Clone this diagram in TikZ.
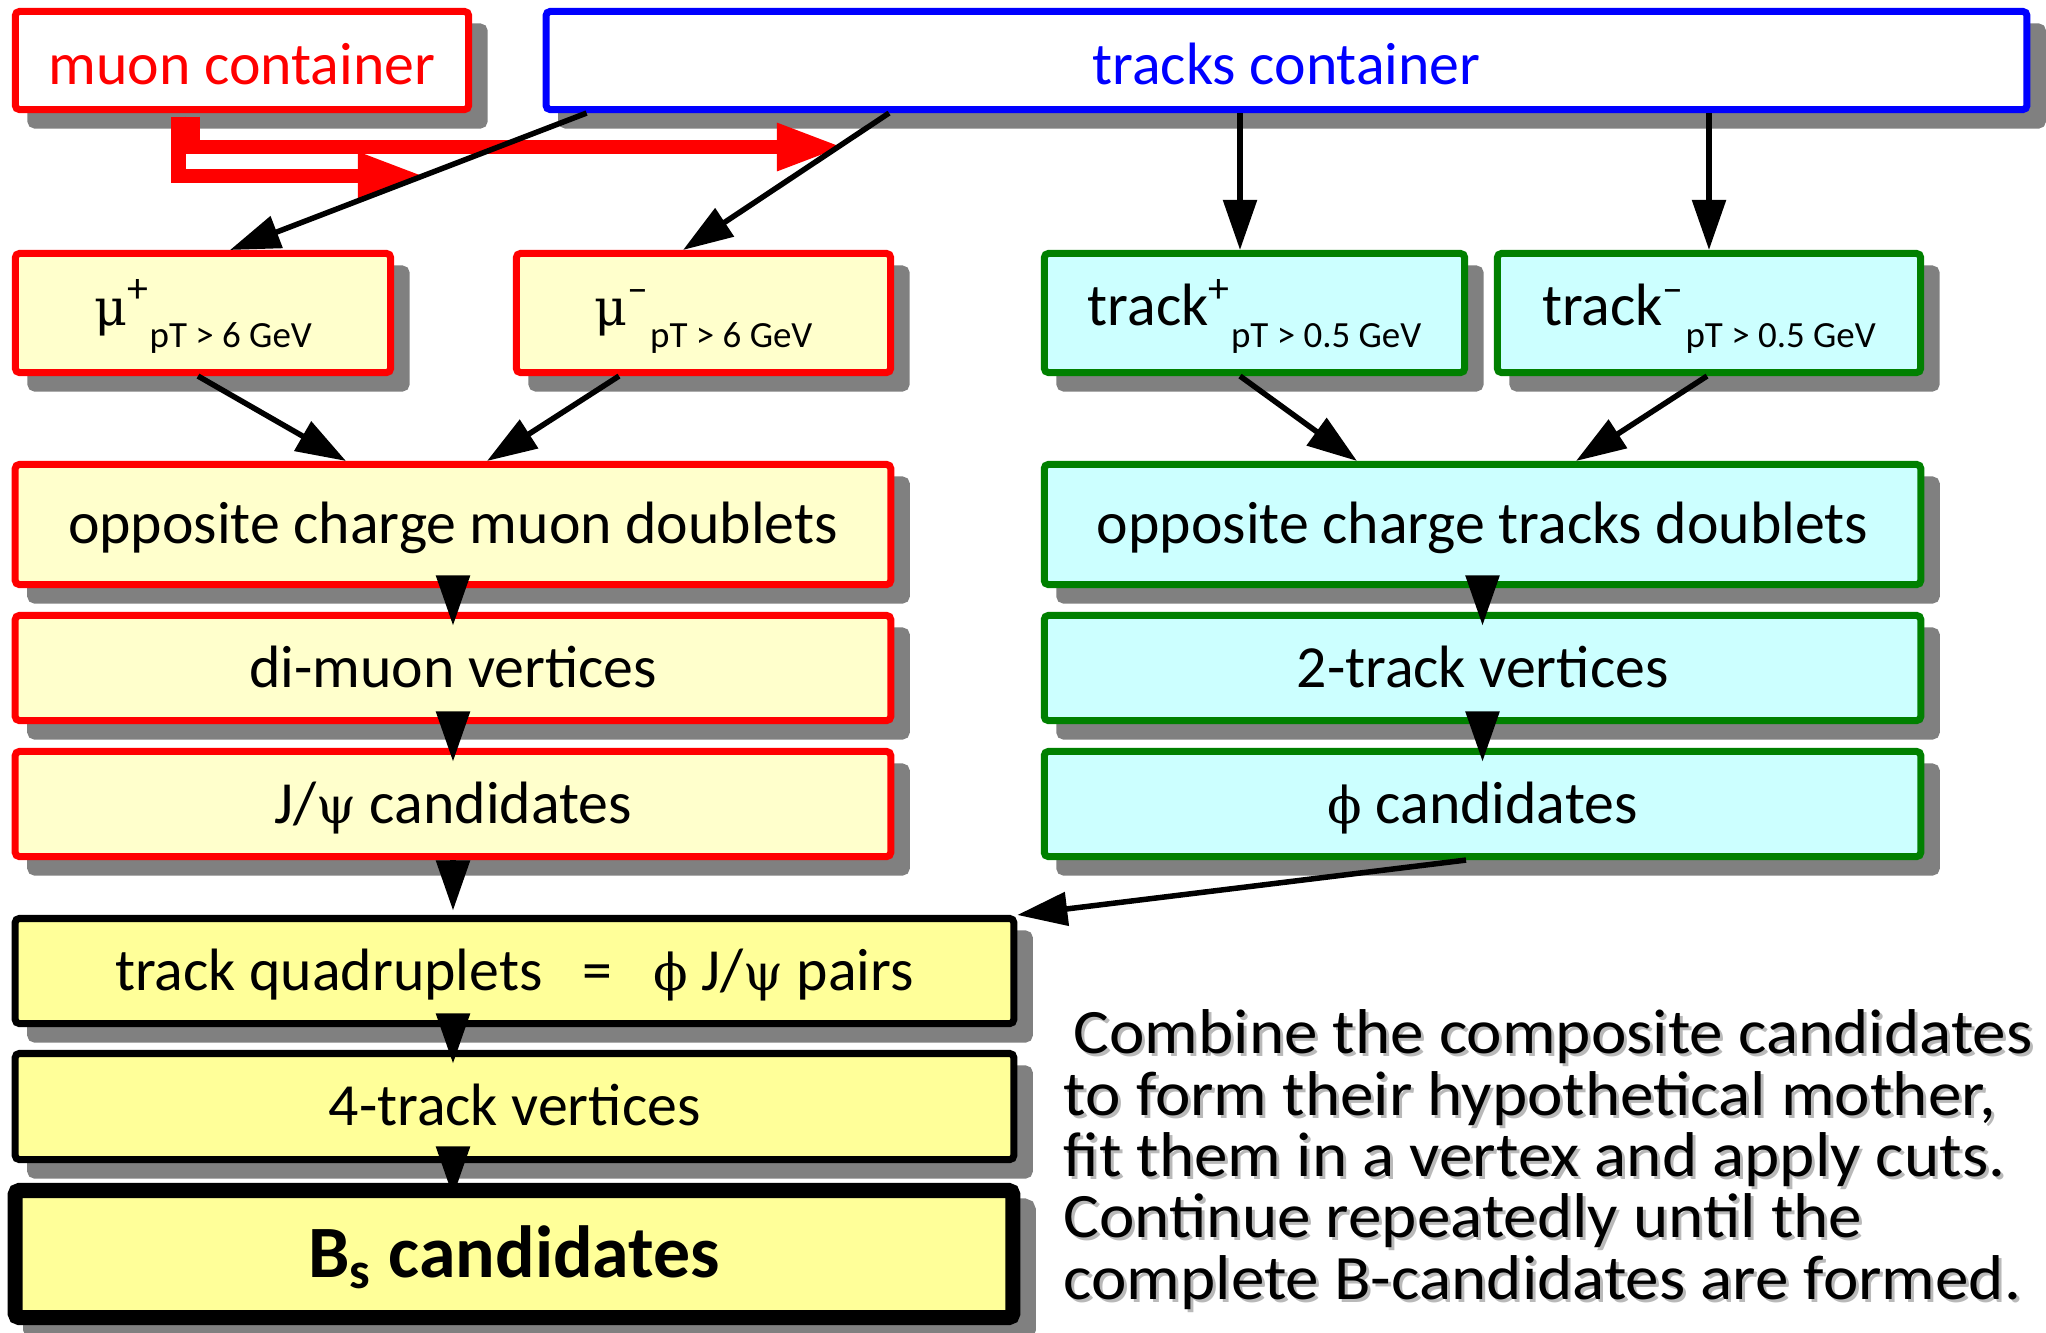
\documentclass[tikz,border=0pt]{standalone}
\usepackage{fontspec}
\setmainfont{Carlito}
\newfontfamily\grk{DejaVu Serif}[Scale=0.85]
\newfontfamily\notefam{Carlito}[FakeStretch=1.06]
\usetikzlibrary{arrows.meta,calc}

\definecolor{mured}{HTML}{FF0000}
\definecolor{trblue}{HTML}{0000FF}
\definecolor{trgreen}{HTML}{008000}
\definecolor{paleyellow}{HTML}{FFFFCC}
\definecolor{palecyan}{HTML}{CCFFFF}
\definecolor{candyellow}{HTML}{FFFF99}
\definecolor{shade}{HTML}{808080}

\newcommand{\bodyfont}{\fontsize{17}{20}\selectfont}
\newcommand{\subfont}{\fontsize{10.5}{12}\selectfont}
\newcommand{\bigfont}{\fontsize{21}{25}\selectfont}
\newcommand{\notefont}{\notefam\fontsize{18}{17.44}\selectfont}
\newcommand{\notetext}{\hspace*{0.1cm}Combine the composite candidates\\
to form their hypothetical mother,\\
fit them in a vertex and apply cuts.\\
Continue repeatedly until the\\
complete B-candidates are formed.}

\begin{document}
\begin{tikzpicture}[x=0.01cm, y=-0.01cm,
  base/.style={rectangle, rounded corners=0.04cm, line width=0.07cm, inner sep=0pt,
    preaction={draw=shade, fill=shade, transform canvas={shift={(15.5,15.5)}}},
    font=\bodyfont, text height=0.38cm, text depth=0pt},
  container/.style={base, fill=white, text height=0.47cm},
  muonbox/.style={base, draw=mured, fill=paleyellow},
  trackbox/.style={base, draw=trgreen, fill=palecyan},
  candbox/.style={base, draw=black, fill=candyellow},
  subtext/.style={text depth=0.14cm},
  link/.style={draw=black, line width=0.055cm, -{Triangle[length=0.5cm, width=0.33cm]}},
  chainlink/.style={link, shorten >=-0.135cm},
  feed/.style={draw=mured, line width=0.145cm, line join=miter,
    -{Triangle[length=0.67cm, width=0.44cm]}},
  note/.style={font=\notefont, align=left, inner sep=0pt, anchor=base west}]

\useasboundingbox (0,0) rectangle (2046,1332);

% containers
\node[container, draw=mured, text=mured, minimum width=4.53cm, minimum height=0.98cm]
  (mc) at (242,60.5) {muon container};
\node[container, draw=trblue, text=trblue, minimum width=14.80cm, minimum height=0.98cm]
  (tc) at (1286.5,60.5) {tracks container};

% single particles
\node[muonbox, subtext, minimum width=3.75cm, minimum height=1.19cm] (mup) at (203,313)
  {{\grk μ}\textsuperscript{+}\raisebox{-0.22cm}{\subfont pT > 6 GeV}};
\node[muonbox, subtext, minimum width=3.74cm, minimum height=1.19cm] (mum) at (703.5,313)
  {{\grk μ}\textsuperscript{–}\raisebox{-0.22cm}{\subfont pT > 6 GeV}};
\node[trackbox, subtext, minimum width=4.20cm, minimum height=1.19cm] (trp) at (1254.5,313)
  {track\textsuperscript{+}\raisebox{-0.22cm}{\subfont pT > 0.5 GeV}};
\node[trackbox, subtext, minimum width=4.23cm, minimum height=1.19cm] (trm) at (1709,313)
  {track\textsuperscript{–}\raisebox{-0.22cm}{\subfont pT > 0.5 GeV}};

% muon chain
\node[muonbox, minimum width=8.75cm, minimum height=1.20cm] (mdb) at (453,524.5)
  {opposite charge muon doublets};
\node[muonbox, minimum width=8.75cm, minimum height=1.05cm] (dmv) at (453,668)
  {di-muon vertices};
\node[muonbox, minimum width=8.75cm, minimum height=1.05cm] (jps) at (453,804)
  {J/{\grk ψ} candidates};

% track chain
\node[trackbox, minimum width=8.76cm, minimum height=1.20cm] (tdb) at (1482.5,524.5)
  {opposite charge tracks doublets};
\node[trackbox, minimum width=8.76cm, minimum height=1.05cm] (tv2) at (1482.5,668)
  {2-track vertices};
\node[trackbox, minimum width=8.76cm, minimum height=1.05cm] (phc) at (1482.5,804)
  {{\grk ϕ} candidates};

% combined candidates
\node[candbox, minimum width=9.98cm, minimum height=1.05cm] (quad) at (514.5,971)
  {track quadruplets\ \ \ =\ \ \ {\grk ϕ} J/{\grk ψ} pairs};
\node[candbox, minimum width=9.98cm, minimum height=1.06cm] (v4) at (514.5,1106.5)
  {4-track vertices};
\node[candbox, line width=0.15cm, minimum width=9.97cm, minimum height=1.27cm,
  font=\bigfont, text height=0.475cm] (bs) at (514,1254)
  {\textbf{B\textsubscript{s} candidates}};

% muon container feeds
\coordinate (redtipA) at (425,176);
\coordinate (redtipB) at (844,147);
\draw[feed] ($(mc.south west)+(166.5,3.5)$) |- (redtipA);
\draw[feed] ($(mc.south west)+(181,3.5)$) |- (redtipB);

% tracks container to single particles
\draw[link] ($(tc.south west)+(44,0)$) -- ($(mup.north)+(27,0)$);
\draw[link] ($(tc.south west)+(346.5,0)$) -- ($(mum.north)+(-20.5,0)$);
\coordinate (trpin) at ($(trp.north)+(-14.5,0)$);
\draw[link] (tc.south -| trpin) -- (trpin);
\draw[link] (tc.south -| trm.north) -- (trm.north);

% pairing
\draw[link] ($(mup.south)+(-5,0)$) -- ($(mdb.north)+(-107,0)$);
\draw[link] ($(mum.south)+(-84.5,0)$) -- ($(mdb.north)+(34,0)$);
\draw[link] ($(trp.south)+(-14.5,0)$) -- ($(tdb.north)+(-125.5,0)$);
\draw[link] ($(trm.south)+(-2,0)$) -- ($(tdb.north)+(93.5,0)$);

% chains
\draw[chainlink] (mdb.south) -- (dmv.north);
\draw[chainlink] (dmv.south) -- (jps.north);
\draw[link, shorten >=0.045cm] (jps.south) -- (jps.south |- quad.north);
\draw[chainlink] (jps.south |- quad.south) -- (jps.south |- v4.north);
\draw[chainlink] (jps.south |- v4.south) -- (jps.south |- bs.north);
\draw[chainlink] (tdb.south) -- (tv2.north);
\draw[chainlink] (tv2.south) -- (phc.north);
\draw[link] ($(phc.south)+(-16.5,0)$) -- (quad.north east);

% explanatory note with its shadow (anchored at the last line's baseline)
\node[note, text=gray!55] (noteshade) at (1066,1302) {\notetext};
\node[note] (note) at (1063,1299) {\notetext};
\end{tikzpicture}
\end{document}
